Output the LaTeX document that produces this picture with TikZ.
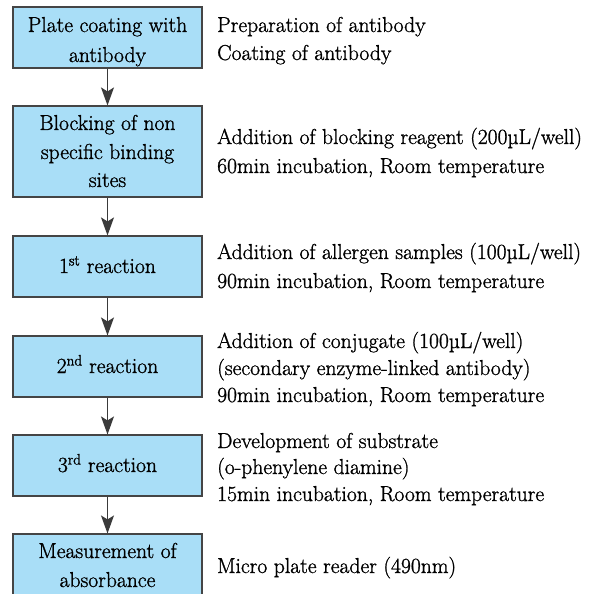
\documentclass[tikz,border=0pt]{standalone}
\usetikzlibrary{arrows.meta}
\definecolor{boxfill}{HTML}{A9DEF7}
\definecolor{boxline}{HTML}{454545}
\definecolor{arrline}{HTML}{3A3A3A}
\newcommand{\micro}{\symbol{"00B5}}
\newcommand{\heavytext}{\special{pdf:literal direct 2 Tr 0.25 w}}
\tikzset{
  stepbox/.style={draw=boxline, line width=1.1pt, fill=boxfill, minimum width=189pt, inner sep=0pt},
  boxtxt/.style={anchor=base, inner sep=0pt, font=\fontsize{21.6}{29}\selectfont\heavytext},
  sidetxt/.style={anchor=base west, inner sep=0pt, font=\fontsize{21.6}{29}\selectfont\heavytext},
  flow/.style={draw=arrline, line width=1pt, -{Stealth[length=18pt,width=13pt,inset=4pt]}}
}
\begin{document}
\begin{tikzpicture}[x=1pt,y=-1pt]
\useasboundingbox (0,0) rectangle (609,593);
\clip (0,0) rectangle (609,593);
% boxes
\node[stepbox, minimum height=61pt] (b1) at (107.5,37.5) {};
\node[stepbox, minimum height=91pt] (b2) at (107.5,151.5) {};
\node[stepbox, minimum height=61pt] (b3) at (107.5,266.5) {};
\node[stepbox, minimum height=61pt] (b4) at (107.5,366.5) {};
\node[stepbox, minimum height=61pt] (b5) at (107.5,465.5) {};
\node[stepbox, minimum height=64pt] (b6) at (107.5,566) {};
% box texts
\node[boxtxt] (t1a) at (107.5,32) {Plate coating with};
\node[boxtxt] (t1b) at (107.5,62) {antibody};
\node[boxtxt] (t2a) at (107.5,130) {Blocking of non};
\node[boxtxt] (t2b) at (107.5,159) {specific binding};
\node[boxtxt] (t2c) at (107.5,187) {sites};
\node[boxtxt] (t3) at (107.5,273) {1\textsuperscript{st} reaction};
\node[boxtxt] (t4) at (107.5,373) {2\textsuperscript{nd} reaction};
\node[boxtxt] (t5) at (107.5,472) {3\textsuperscript{rd} reaction};
\node[boxtxt] (t6a) at (107.5,558) {Measurement of};
\node[boxtxt] (t6b) at (107.5,587) {absorbance};
% arrows
\draw[flow] (b1.south) -- (b2.north);
\draw[flow] (b2.south) -- (b3.north);
\draw[flow] (b3.south) -- (b4.north);
\draw[flow] (b4.south) -- (b5.north);
\draw[flow] (b5.south) -- (b6.north);
% side texts
\node[sidetxt] (s1a) at (217,32) {Preparation of antibody};
\node[sidetxt] (s1b) at (217,60) {Coating of antibody};
\node[sidetxt] (s2a) at (217,144) {Addition of blocking reagent (200\micro L/well)};
\node[sidetxt] (s2b) at (217,173) {60min incubation, Room temperature};
\node[sidetxt] (s3a) at (217,259) {Addition of allergen samples (100\micro L/well)};
\node[sidetxt] (s3b) at (217,288) {90min incubation, Room temperature};
\node[sidetxt] (s4a) at (217,348) {Addition of conjugate (100\micro L/well)};
\node[sidetxt] (s4b) at (217,375) {(secondary enzyme-linked antibody)};
\node[sidetxt] (s4c) at (217,402) {90min incubation, Room temperature};
\node[sidetxt] (s5a) at (217,448) {Development of substrate};
\node[sidetxt] (s5b) at (217,474) {(o-phenylene diamine)};
\node[sidetxt] (s5c) at (217,501) {15min incubation, Room temperature};
\node[sidetxt] (s6) at (217,573) {Micro plate reader (490nm)};
\end{tikzpicture}
\end{document}
